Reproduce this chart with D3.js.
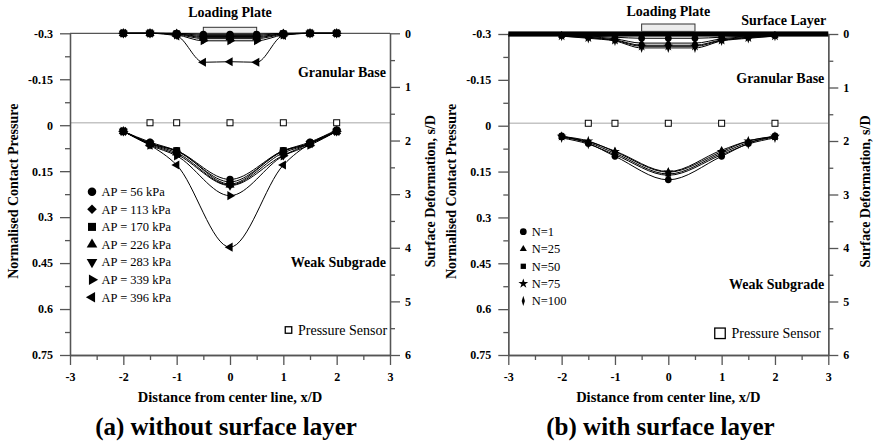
<!DOCTYPE html>
<html>
<head>
<meta charset="utf-8">
<script src="https://cdn.jsdelivr.net/npm/d3@7"></script>
<style>
  html, body { margin: 0; padding: 0; background: #fff; }
  svg { display: block; }
  text { font-family: "Liberation Serif", "Times New Roman", serif; fill: #000; }
</style>
</head>
<body>
<svg id="chart" width="874" height="446"></svg>
<script>
// ---------------- DATA ----------------
const xTicks = [-3, -2, -1, 0, 1, 2, 3];
const xMinorTicks = [-2.5, -1.5, -0.5, 0.5, 1.5, 2.5];
const pressureTicks = [-0.3, -0.15, 0, 0.15, 0.3, 0.45, 0.6, 0.75];
const pressureMinorTicks = [-0.225, -0.075, 0.075, 0.225, 0.375, 0.525, 0.675];
const deformTicks = [0, 1, 2, 3, 4, 5, 6];
const deformMinorTicks = [0.5, 1.5, 2.5, 3.5, 4.5, 5.5];

const pressureX = [-2, -1.5, -1, 0, 1, 1.5, 2];
const deformX = [-2, -1.5, -1, -0.5, 0, 0.5, 1, 1.5, 2];
const sensorX = [-1.5, -1, 0, 1, 2];
const sensorLevel = -0.008;
const plateX = [-0.5, 0.5];

// Panel (a): without surface layer
const apLabels = ["AP = 56 kPa", "AP = 113 kPa", "AP = 170 kPa", "AP = 226 kPa",
                  "AP = 283 kPa", "AP = 339 kPa", "AP = 396 kPa"];
const apSymbols = ["circle", "diamond", "square", "triUp", "triDown", "triRight", "triLeft"];
const apPressure = [
  [0.020, 0.055, 0.083, 0.177, 0.083, 0.055, 0.015],
  [0.020, 0.058, 0.085, 0.185, 0.085, 0.058, 0.018],
  [0.020, 0.060, 0.083, 0.192, 0.083, 0.060, 0.020],
  [0.020, 0.060, 0.090, 0.195, 0.090, 0.060, 0.020],
  [0.020, 0.062, 0.095, 0.197, 0.098, 0.060, 0.020],
  [0.020, 0.065, 0.100, 0.230, 0.100, 0.065, 0.020],
  [0.020, 0.065, 0.130, 0.398, 0.130, 0.060, 0.020]
];
const apDeform = [
  [0, 0, 0.00, 0.02, 0.02, 0.02, 0.00, 0, 0],
  [0, 0, 0.00, 0.04, 0.04, 0.04, 0.00, 0, 0],
  [0, 0, 0.01, 0.06, 0.06, 0.06, 0.01, 0, 0],
  [0, 0, 0.01, 0.08, 0.08, 0.08, 0.01, 0, 0],
  [0, 0, 0.02, 0.10, 0.10, 0.10, 0.02, 0, 0],
  [0, 0, 0.03, 0.14, 0.14, 0.14, 0.03, 0, 0],
  [0, 0, 0.05, 0.54, 0.53, 0.54, 0.04, 0, 0]
];

// Panel (b): with surface layer
const nLabels = ["N=1", "N=25", "N=50", "N=75", "N=100"];
const nSymbols = ["circleS", "triS", "squareS", "star", "thinDiamond"];
const nPressure = [
  [0.033, 0.058, 0.100, 0.177, 0.100, 0.058, 0.033],
  [0.036, 0.052, 0.083, 0.150, 0.080, 0.050, 0.036],
  [0.038, 0.055, 0.090, 0.158, 0.090, 0.055, 0.038],
  [0.035, 0.050, 0.085, 0.152, 0.085, 0.050, 0.035],
  [0.040, 0.060, 0.095, 0.162, 0.095, 0.060, 0.040]
];
const nDeform = [
  [0.02, 0.04, 0.06, 0.08, 0.08, 0.08, 0.06, 0.04, 0.02],
  [0.03, 0.05, 0.09, 0.17, 0.17, 0.17, 0.09, 0.05, 0.03],
  [0.03, 0.06, 0.11, 0.21, 0.21, 0.21, 0.11, 0.06, 0.03],
  [0.04, 0.07, 0.12, 0.23, 0.23, 0.23, 0.12, 0.07, 0.04],
  [0.04, 0.08, 0.13, 0.26, 0.26, 0.26, 0.13, 0.08, 0.04]
];

// ---------------- DRAWING ----------------
const svg = d3.select("#chart");
const AXIS_COLOR = "#555";

function symbolPath(name, big) {
  const k = big ? 1.35 : 1;
  switch (name) {
    case "circle": return { d: d3.symbol(d3.symbolCircle, 42 * k)(), t: "" };
    case "diamond": return { d: d3.symbol(d3.symbolSquare, 34 * k)(), t: "rotate(45)" };
    case "square": return { d: d3.symbol(d3.symbolSquare, 48 * k)(), t: "" };
    case "triUp": return { d: d3.symbol(d3.symbolTriangle, 36 * k)(), t: "" };
    case "triDown": return { d: d3.symbol(d3.symbolTriangle, 36 * k)(), t: "rotate(180)" };
    case "triRight": return { d: d3.symbol(d3.symbolTriangle, 36 * k)(), t: "rotate(90)" };
    case "triLeft": return { d: d3.symbol(d3.symbolTriangle, 36 * k)(), t: "rotate(-90)" };
    case "circleS": return { d: d3.symbol(d3.symbolCircle, 36 * k)(), t: "" };
    case "triS": return { d: d3.symbol(d3.symbolTriangle, 22 * k)(), t: "" };
    case "squareS": return { d: d3.symbol(d3.symbolSquare, 28 * k)(), t: "" };
    case "star": return { d: d3.symbol(d3.symbolStar, 30 * k)(), t: "" };
    case "thinDiamond": return { d: d3.symbol(d3.symbolDiamond, 30 * k)(), t: "scale(0.55,1)" };
  }
}

function drawMarker(g, name, x, y, big) {
  const s = symbolPath(name, big);
  g.append("path").attr("d", s.d)
    .attr("transform", `translate(${x},${y}) ${s.t}`)
    .attr("fill", "#000");
}

function panel(cfg) {
  const g = svg.append("g");
  const x = d3.scaleLinear().domain([-3, 3]).range([cfg.x0, cfg.x1]);
  const yP = d3.scaleLinear().domain([-0.3, 0.75]).range([cfg.y0, cfg.y1]);
  const yD = d3.scaleLinear().domain([0, 6]).range([cfg.y0, cfg.y1]);
  const fmt = d => String(d);

  // gray reference line at the sensor level
  g.append("line")
    .attr("x1", x(-3)).attr("x2", x(3))
    .attr("y1", yP(sensorLevel)).attr("y2", yP(sensorLevel))
    .attr("stroke", "#c4c4c4").attr("stroke-width", 1.5);

  // top frame line
  g.append("line")
    .attr("x1", x(-3)).attr("x2", x(3))
    .attr("y1", cfg.y0).attr("y2", cfg.y0)
    .attr("stroke", AXIS_COLOR).attr("stroke-width", 1.3);

  // axes
  function styleAxis(sel) {
    sel.selectAll("path").attr("stroke", AXIS_COLOR).attr("stroke-width", 1.3);
    sel.selectAll("line").attr("stroke", AXIS_COLOR).attr("stroke-width", 1.3);
    sel.selectAll("text").attr("font-weight", "bold").attr("font-size", 12)
      .attr("fill", "#000");
  }
  const gx = g.append("g").attr("transform", `translate(0,${cfg.y1})`)
    .call(d3.axisBottom(x).tickValues(xTicks).tickFormat(fmt).tickSize(10).tickSizeOuter(0).tickPadding(7));
  styleAxis(gx);
  const gxm = g.append("g").attr("transform", `translate(0,${cfg.y1})`)
    .call(d3.axisBottom(x).tickValues(xMinorTicks).tickFormat("").tickSize(5).tickSizeOuter(0));
  styleAxis(gxm);

  const gl = g.append("g").attr("transform", `translate(${cfg.x0},0)`)
    .call(d3.axisLeft(yP).tickValues(pressureTicks).tickFormat(fmt).tickSize(10).tickSizeOuter(0).tickPadding(7));
  styleAxis(gl);
  const glm = g.append("g").attr("transform", `translate(${cfg.x0},0)`)
    .call(d3.axisLeft(yP).tickValues(pressureMinorTicks).tickFormat("").tickSize(5).tickSizeOuter(0));
  styleAxis(glm);

  const gr = g.append("g").attr("transform", `translate(${cfg.x1},0)`)
    .call(d3.axisRight(yD).tickValues(deformTicks).tickFormat(fmt).tickSize(10).tickSizeOuter(0).tickPadding(5));
  styleAxis(gr);
  const grm = g.append("g").attr("transform", `translate(${cfg.x1},0)`)
    .call(d3.axisRight(yD).tickValues(deformMinorTicks).tickFormat("").tickSize(5).tickSizeOuter(0));
  styleAxis(grm);

  // surface layer band
  if (cfg.surface) {
    g.append("rect")
      .attr("x", x(-3)).attr("width", x(3) - x(-3))
      .attr("y", yD(0) - 2.6).attr("height", 5.2)
      .attr("fill", "#000");
  }

  // loading plate
  const plateTop = cfg.surface ? yD(0) - 10 : yD(0) - 6;
  const plateBottom = cfg.surface ? yD(0) - 2.6 : yD(0);
  g.append("rect")
    .attr("x", x(plateX[0])).attr("width", x(plateX[1]) - x(plateX[0]))
    .attr("y", plateTop).attr("height", plateBottom - plateTop)
    .attr("fill", "#ececec").attr("stroke", "#333").attr("stroke-width", 1);

  // curves
  const line = d3.line().curve(d3.curveMonotoneX);
  cfg.deform.forEach((vals, i) => {
    g.append("path")
      .attr("d", line(deformX.map((xv, j) => [x(xv), yD(vals[j])])))
      .attr("fill", "none").attr("stroke", "#000").attr("stroke-width", 1);
  });
  cfg.pressure.forEach((vals, i) => {
    g.append("path")
      .attr("d", line(pressureX.map((xv, j) => [x(xv), yP(vals[j])])))
      .attr("fill", "none").attr("stroke", "#000").attr("stroke-width", 1);
  });
  cfg.deform.forEach((vals, i) => {
    deformX.forEach((xv, j) => drawMarker(g, cfg.symbols[i], x(xv), yD(vals[j]), false));
  });
  cfg.pressure.forEach((vals, i) => {
    pressureX.forEach((xv, j) => drawMarker(g, cfg.symbols[i], x(xv), yP(vals[j]), false));
  });

  // pressure sensors
  sensorX.forEach(sx => {
    g.append("rect")
      .attr("x", x(sx) - 3).attr("y", yP(sensorLevel) - 3)
      .attr("width", 6).attr("height", 6)
      .attr("fill", "#fff").attr("stroke", "#000").attr("stroke-width", 1);
  });

  // legend
  cfg.labels.forEach((lab, i) => {
    const ly = cfg.legY + i * cfg.legStep;
    drawMarker(g, cfg.symbols[i], cfg.legX, ly, !cfg.surface);
    g.append("text").attr("x", cfg.legX + cfg.legGap).attr("y", ly + 4.2)
      .attr("font-size", 12.5).text(lab);
  });
  // pressure sensor legend
  const ps = cfg.psSize;
  g.append("rect")
    .attr("x", cfg.psX - ps / 2).attr("y", cfg.psY - ps / 2)
    .attr("width", ps).attr("height", ps)
    .attr("fill", "#fff").attr("stroke", "#000").attr("stroke-width", 1.3);
  g.append("text").attr("x", cfg.psTextX).attr("y", cfg.psY + 4.8)
    .attr("font-size", 14).text("Pressure Sensor");

  // layer annotations
  g.append("text").attr("x", x(0)).attr("y", cfg.plateLabelY)
    .attr("text-anchor", "middle").attr("font-weight", "bold").attr("font-size", 14)
    .text("Loading Plate");
  if (cfg.surface) {
    g.append("text").attr("x", cfg.x1 - 2).attr("y", 25)
      .attr("text-anchor", "end").attr("font-weight", "bold").attr("font-size", 14)
      .text("Surface Layer");
  }
  g.append("text").attr("x", cfg.x1 - 4).attr("y", cfg.granY)
    .attr("text-anchor", "end").attr("font-weight", "bold").attr("font-size", 14)
    .text("Granular Base");
  g.append("text").attr("x", cfg.x1 - 4).attr("y", cfg.weakY)
    .attr("text-anchor", "end").attr("font-weight", "bold").attr("font-size", 14)
    .text("Weak Subgrade");

  // axis titles
  g.append("text").attr("x", x(0)).attr("y", 401.5)
    .attr("text-anchor", "middle").attr("font-weight", "bold").attr("font-size", 14.5)
    .text("Distance from center line, x/D");
  g.append("text")
    .attr("transform", `translate(${cfg.leftLabelX},${(cfg.y0 + cfg.y1) / 2 - 3}) rotate(-90)`)
    .attr("text-anchor", "middle").attr("font-weight", "bold").attr("font-size", 14)
    .text("Normalised Contact Pressure");
  g.append("text")
    .attr("transform", `translate(${cfg.rightLabelX},${(cfg.y0 + cfg.y1) / 2 - 3}) rotate(-90)`)
    .attr("text-anchor", "middle").attr("font-weight", "bold").attr("font-size", 14)
    .text("Surface Deformation, s/D");

  // panel caption
  g.append("text").attr("x", cfg.capX).attr("y", 434.5)
    .attr("text-anchor", "middle").attr("font-weight", "bold").attr("font-size", 25)
    .text(cfg.caption);
}

panel({
  x0: 70, x1: 390, y0: 33.3, y1: 355,
  surface: false,
  deform: apDeform, pressure: apPressure, symbols: apSymbols, labels: apLabels,
  legX: 92, legGap: 9.5, legY: 191.7, legStep: 17.6,
  psX: 288.5, psY: 330, psSize: 6.5, psTextX: 298,
  plateLabelY: 16.7, granY: 77, weakY: 267,
  leftLabelX: 17.5, rightLabelX: 435,
  capX: 226, caption: "(a) without surface layer"
});

panel({
  x0: 508.3, x1: 828.3, y0: 34, y1: 355,
  surface: true,
  deform: nDeform, pressure: nPressure, symbols: nSymbols, labels: nLabels,
  legX: 523.3, legGap: 8.5, legY: 231.7, legStep: 17.3,
  psX: 720, psY: 333.3, psSize: 10.5, psTextX: 731.5,
  plateLabelY: 15.5, granY: 83, weakY: 289,
  leftLabelX: 456, rightLabelX: 869.5,
  capX: 660.5, caption: "(b) with surface layer"
});
</script>
</body>
</html>
